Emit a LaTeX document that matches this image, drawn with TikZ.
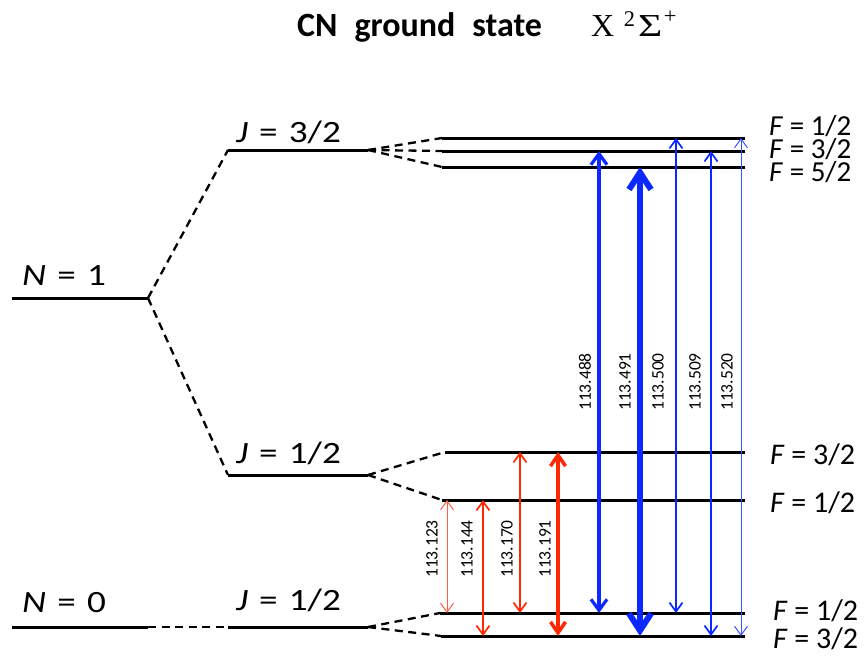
\documentclass[tikz,border=0pt]{standalone}
\usepackage{fontspec}
\usepackage{graphicx}
\setmainfont{Carlito}
\newfontfamily\tms{Liberation Serif}
\usetikzlibrary{arrows.meta}
\definecolor{myred}{RGB}{255,40,5}
\definecolor{myblue}{RGB}{10,40,255}
\newcommand{\gp}{\hspace{0.3em}}
\newcommand{\wlab}[1]{\scalebox{1.2}[1]{#1}}
\tikzset{
  level/.style={line width=3pt, black},
  conn/.style={line width=2.3pt, black, dash pattern=on 8pt off 5.5pt},
  lab/.style={anchor=base west, inner sep=0pt, font=\fontsize{31}{36}\selectfont},
  flab/.style={anchor=base west, inner sep=0pt, font=\fontsize{30}{34}\selectfont},
  fsm/.style={anchor=base west, inner sep=0pt, font=\fontsize{29}{32}\selectfont},
  num/.style={rotate=90, inner sep=0pt, font=\fontsize{17.5}{20}\selectfont},
  thinhead/.style={{Straight Barb[length=9pt,width=13pt]}-{Straight Barb[length=9pt,width=13pt]}},
  tr/.style={myred, thinhead},
  tb/.style={myblue, thinhead},
}
\begin{document}
\begin{tikzpicture}[x=1pt,y=-1pt]
\useasboundingbox (0,0) rectangle (865,657);
% title
\node[anchor=base west, inner sep=0pt, font=\fontsize{34}{40}\bfseries] (title) at (297,36) {CN\hspace{0.5em}ground\hspace{0.5em}state};
\node[anchor=base west, inner sep=0pt, font=\fontsize{32}{36}\tms] (sym) at (591,36) {X\hspace{0.3em}\textsuperscript{2}\hspace{0.08em}\scalebox{1.3}[1]{Σ}\hspace{0.05em}\raisebox{0.12em}{\textsuperscript{+}}};
% coordinates of levels
\coordinate (N1L) at (12,298); \coordinate (N1R) at (148,298);
\coordinate (J32L) at (228,150); \coordinate (J32R) at (368,150);
\coordinate (JuL) at (228,475); \coordinate (JuR) at (368,475);
\coordinate (N0L) at (12,627); \coordinate (N0R) at (148,627);
\coordinate (JlL) at (228,627); \coordinate (JlR) at (368,627);
\coordinate (A1L) at (442,138); \coordinate (A1R) at (745,138);
\coordinate (A3L) at (442,151); \coordinate (A3R) at (745,151);
\coordinate (A5L) at (442,167); \coordinate (A5R) at (745,167);
\coordinate (B3L) at (445,452); \coordinate (B3R) at (745,452);
\coordinate (B1L) at (442,500); \coordinate (B1R) at (745,500);
\coordinate (C1L) at (440,613); \coordinate (C1R) at (745,613);
\coordinate (C3L) at (441,636); \coordinate (C3R) at (745,636);
% level lines
\foreach \a in {N1,J32,Ju,N0,Jl,A1,A3,A5,B3,B1,C1,C3}
  \draw[level] (\a L) -- (\a R);
% dashed connectors
\draw[conn] (N1R) -- (J32L);
\draw[conn] (N1R) -- (JuL);
\draw[conn] (N0R) -- (JlL);
\draw[conn] (J32R) -- (A1L);
\draw[conn] (J32R) -- (A3L);
\draw[conn] (J32R) -- (A5L);
\draw[conn] (JuR) -- (B3L);
\draw[conn] (JuR) -- (B1L);
\draw[conn] (JlR) -- (C1L);
\draw[conn] (JlR) -- (C3L);
% labels
\node[lab] (tN1) at (22,285) {\wlab{\textit{N}\gp=\gp1}};
\node[lab] (tN0) at (22,612) {\wlab{\textit{N}\gp=\gp0}};
\node[lab] (tJ32) at (236,142) {\wlab{\textit{J}\gp=\gp3/2}};
\node[lab] (tJu) at (236,463) {\wlab{\textit{J}\gp=\gp1/2}};
\node[lab] (tJl) at (236,610) {\wlab{\textit{J}\gp=\gp1/2}};
\node[fsm] (fA1) at (769,135) {\textit{F} = 1/2};
\node[fsm] (fA3) at (769,158) {\textit{F} = 3/2};
\node[fsm] (fA5) at (769,181) {\textit{F} = 5/2};
\node[flab] (fB3) at (770,464) {\textit{F} = 3/2};
\node[flab] (fB1) at (770,512) {\textit{F} = 1/2};
\node[flab] (fC1) at (773,620) {\textit{F} = 1/2};
\node[flab] (fC3) at (773,648) {\textit{F} = 3/2};
% x positions of transitions
\coordinate (xr1) at (447,0); \coordinate (xr2) at (483,0);
\coordinate (xr3) at (520,0); \coordinate (xr4) at (558,0);
\coordinate (xb1) at (599,0); \coordinate (xb2) at (640,0);
\coordinate (xb3) at (676,0); \coordinate (xb4) at (711,0);
\coordinate (xb5) at (741,0);
% red transitions
\draw[tr, myred!75, line width=1pt] (xr1 |- B1L) -- (xr1 |- C1L);
\draw[tr, line width=1.7pt] (xr2 |- B1L) -- (xr2 |- C3L);
\draw[tr, line width=1.7pt] (xr3 |- B3L) -- (xr3 |- C1L);
\draw[tr, line width=3.5pt, {Straight Barb[length=11pt,width=15pt]}-{Straight Barb[length=11pt,width=15pt]}] (xr4 |- B3L) -- (xr4 |- C3L);
% blue transitions
\draw[tb, line width=3.2pt, {Straight Barb[length=11pt,width=16pt]}-{Straight Barb[length=11pt,width=16pt]}] (xb1 |- A3L) -- (xb1 |- C1L);
\draw[tb, line width=6pt, {Straight Barb[length=17pt,width=22pt]}-{Straight Barb[length=17pt,width=22pt]}] (xb2 |- A5L) -- (xb2 |- C3L);
\draw[tb, line width=1.7pt] (xb3 |- A1L) -- (xb3 |- C1L);
\draw[tb, line width=1.7pt] (xb4 |- A3L) -- (xb4 |- C3L);
\draw[tb, myblue!80, line width=1pt] (xb5 |- A1L) -- (xb5 |- C3L);
% numbers
\node[num] (n1) at (432,549) {113.123};
\node[num] (n2) at (467,549) {113.144};
\node[num] (n3) at (507,549) {113.170};
\node[num] (n4) at (545,549) {113.191};
\node[num] (n5) at (585,382) {113.488};
\node[num] (n6) at (625,382) {113.491};
\node[num] (n7) at (658,382) {113.500};
\node[num] (n8) at (695,382) {113.509};
\node[num] (n9) at (727,382) {113.520};
\end{tikzpicture}
\end{document}
